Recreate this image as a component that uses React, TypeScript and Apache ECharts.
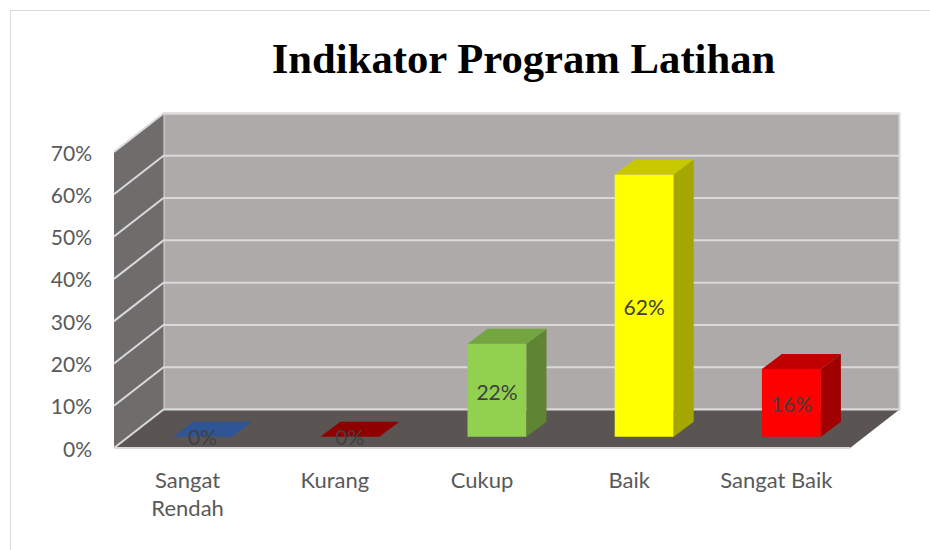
import React, { useEffect, useRef } from "react";
import * as echarts from "echarts";

const titleText = "Indikator Program Latihan";
const categories = ["Sangat\nRendah", "Kurang", "Cukup", "Baik", "Sangat Baik"];
const values = [0, 0, 22, 62, 16];
const yTicks = [0, 10, 20, 30, 40, 50, 60, 70];
const frontColors = ["#4472c4", "#c00000", "#92d050", "#ffff00", "#ff0000"];
const topColors = ["#2f5597", "#8f0000", "#74a640", "#c8c800", "#c00000"];
const sideColors = ["#264780", "#700000", "#5f8433", "#a6a600", "#a00000"];

const FONT = "Lato";
const WALL_DX = 49.5;
const WALL_DY = -38.5;
const BAR_DX = 15;
const BAR_DY = -11.3;
const DEPTH_DX = 20;
const DEPTH_DY = -15;
const BAR_W = 59;
const GRID_LINE = "#d9d9d9";

export default function App() {
  const ref = useRef<HTMLDivElement>(null);

  useEffect(() => {
    const chart = echarts.init(ref.current!, null, { renderer: "svg" });

    const renderWalls = (params: any, api: any) => {
      const c = params.coordSys;
      const x0 = c.x;
      const x1 = c.x + c.width;
      const y0 = c.y + c.height;
      const y1 = c.y;
      const children: any[] = [
        {
          type: "polygon",
          shape: { points: [[x0 + WALL_DX, y1 + WALL_DY], [x1 + WALL_DX, y1 + WALL_DY], [x1 + WALL_DX, y0 + WALL_DY], [x0 + WALL_DX, y0 + WALL_DY]] },
          style: { fill: "#aeaaa9", stroke: GRID_LINE, lineWidth: 2 },
        },
        {
          type: "polygon",
          shape: { points: [[x0, y1], [x0 + WALL_DX, y1 + WALL_DY], [x0 + WALL_DX, y0 + WALL_DY], [x0, y0]] },
          style: { fill: "#6f6c6c" },
        },
        {
          type: "polygon",
          shape: { points: [[x0, y0], [x1, y0], [x1 + WALL_DX, y0 + WALL_DY], [x0 + WALL_DX, y0 + WALL_DY]] },
          style: { fill: "#5a5553" },
        },
      ];
      yTicks.forEach((t) => {
        const y = api.coord([0, t])[1];
        children.push({
          type: "polyline",
          shape: { points: [[x0, y], [x0 + WALL_DX, y + WALL_DY], [x1 + WALL_DX, y + WALL_DY]] },
          style: { fill: "none", stroke: GRID_LINE, lineWidth: 2 },
        });
      });
      children.push({
        type: "polyline",
        shape: { points: [[x0, y0], [x1, y0]] },
        style: { fill: "none", stroke: GRID_LINE, lineWidth: 2 },
      });
      return { type: "group", children };
    };

    const renderBar = (params: any, api: any) => {
      const i = api.value(0);
      const v = api.value(1);
      const top = api.coord([i, v]);
      const base = api.coord([i, 0]);
      const l = top[0] + BAR_DX - BAR_W / 2;
      const r = l + BAR_W;
      const t = top[1] + BAR_DY;
      const b = base[1] + BAR_DY;
      const children: any[] = [];
      if (v > 0) {
        children.push({
          type: "polygon",
          shape: { points: [[l, t], [r, t], [r, b], [l, b]] },
          style: { fill: frontColors[i] },
        });
        children.push({
          type: "polygon",
          shape: { points: [[r, t], [r + DEPTH_DX, t + DEPTH_DY], [r + DEPTH_DX, b + DEPTH_DY], [r, b]] },
          style: { fill: sideColors[i] },
        });
      }
      children.push({
        type: "polygon",
        shape: { points: [[l, t], [r, t], [r + DEPTH_DX, t + DEPTH_DY], [l + DEPTH_DX, t + DEPTH_DY]] },
        style: { fill: topColors[i] },
      });
      children.push({
        type: "text",
        style: {
          x: (l + r) / 2,
          y: (t + b) / 2 + (v > 0 ? 1 : 0),
          text: `${v}%`,
          fill: "#404040",
          fontFamily: FONT,
          fontSize: 21,
          align: "center",
          verticalAlign: "middle",
        },
      });
      return { type: "group", children };
    };

    chart.setOption({
      animation: false,
      backgroundColor: "#ffffff",
      title: {
        text: titleText,
        left: 518.5,
        top: 32,
        textAlign: "center",
        textStyle: { fontFamily: "Liberation Serif", fontWeight: "bold", fontSize: 42.7, color: "#000000" },
      },
      grid: { left: 114, right: 80, top: 152, bottom: 102 },
      xAxis: {
        type: "category",
        data: categories,
        axisLine: { show: false },
        axisTick: { show: false },
        axisLabel: { color: "#595959", fontFamily: FONT, fontSize: 22, lineHeight: 28, margin: 17, interval: 0 },
      },
      yAxis: {
        type: "value",
        min: 0,
        max: 70,
        interval: 10,
        axisLine: { show: false },
        axisTick: { show: false },
        splitLine: { show: false },
        axisLabel: { color: "#595959", fontFamily: FONT, fontSize: 21, margin: 22, formatter: "{value}%" },
      },
      graphic: [
        { type: "line", shape: { x1: 10.5, y1: 10, x2: 10.5, y2: 550 }, style: { stroke: "#d9d9d9", lineWidth: 1 } },
        { type: "line", shape: { x1: 10, y1: 10.5, x2: 930, y2: 10.5 }, style: { stroke: "#d9d9d9", lineWidth: 1 } },
      ],
      series: [
        { type: "custom", z: 1, silent: true, clip: false, renderItem: renderWalls, data: [[0, 0]] },
        {
          type: "custom",
          z: 2,
          clip: false,
          renderItem: renderBar,
          encode: { x: 0, y: 1 },
          data: values.map((v, i) => [i, v]),
        },
      ],
    });
    return () => chart.dispose();
  }, []);

  return <div ref={ref} style={{ position: "fixed", left: 0, top: 0, width: 930, height: 550 }} />;
}
